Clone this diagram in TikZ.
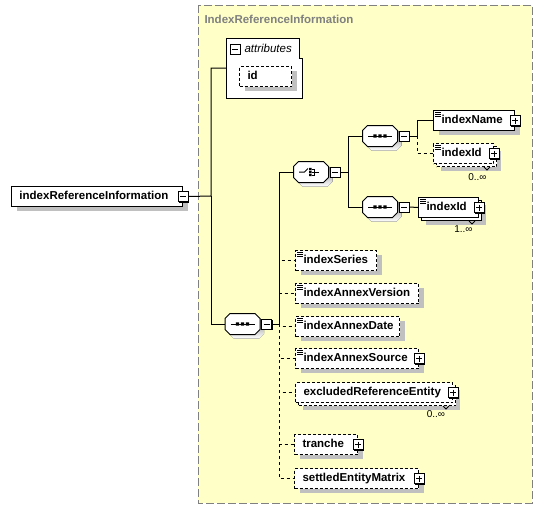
\documentclass[tikz,border=0pt]{standalone}
\usepackage{fontspec}
\setmainfont{Liberation Sans}
\usetikzlibrary{shadows}
\definecolor{bgyellow}{RGB}{255,255,200}
\definecolor{framegray}{RGB}{128,128,128}
\definecolor{shade}{RGB}{192,192,192}
\newcommand{\elfont}{\fontsize{11.5}{13}\selectfont\bfseries}
\newcommand{\occfont}{\fontsize{10}{12}\selectfont}
% octagon outline round a named compositor node
\newcommand{\octpath}[1]{([xshift=5pt]#1.north west) -- ([xshift=-5pt]#1.north east) -- ([yshift=-5pt]#1.north east) -- ([yshift=5pt]#1.south east) -- ([xshift=-5pt]#1.south east) -- ([xshift=5pt]#1.south west) -- ([yshift=5pt]#1.south west) -- ([yshift=-5pt]#1.north west) -- cycle}
\newcommand{\compbox}[1]{\fill[shade,transform canvas={shift={(4pt,-4pt)}}] \octpath{#1}; \draw[fill=white] \octpath{#1};}
\tikzset{
	elem/.style={draw,fill=white,font=\elfont,anchor=north west,minimum height=20pt,inner xsep=8pt,inner ysep=0pt,align=left,text height=8.5pt,text depth=2.5pt},
	single/.style={elem,drop shadow={shadow xshift=5pt,shadow yshift=-4pt,fill=shade,opacity=1}},
	multi/.style={elem,drop shadow={shadow xshift=7pt,shadow yshift=-7pt,fill=shade,opacity=1},general shadow={shadow xshift=3pt,shadow yshift=-3pt,draw,fill=white}},
	opt/.style={dash pattern=on 3pt off 2pt},
	docmark/.style={line width=0.8pt},
	pm/.style={draw,solid,fill=white,minimum size=10pt,inner sep=0pt,drop shadow={shadow xshift=1pt,shadow yshift=-1pt,fill=black,opacity=1}},
	plusbox/.style={pm,path picture={\draw[shift={(path picture bounding box.center)}] (-3,0)--(3,0) (0,-3)--(0,3);}},
	minusbox/.style={pm,path picture={\draw[shift={(path picture bounding box.center)}] (-3,0)--(3,0);}},
	comp/.style={minimum width=34pt,minimum height=20pt,inner sep=0pt},
	occ/.style={font=\occfont,inner sep=0pt},
	notch/.style={line width=0.8pt}
}
\begin{document}
\begin{tikzpicture}[x=1pt,y=-1pt,line width=1pt]
		\useasboundingbox (0,0) rectangle (542,509);
		\path[fill=bgyellow,draw=framegray,dash pattern=on 8pt off 3pt] (198,5) rectangle (532,503);
		\node[anchor=west,inner sep=0pt,font=\elfont,text=framegray] (ttl) at (204,19) {IndexReferenceInformation};
		
		% root element
		\node[single,text width=155pt] (main) at (11,186) {indexReferenceInformation};
		\node[minusbox] (mmain) at (main.east) {};
		
		% attributes
		\node[anchor=north west,minimum width=76pt,minimum height=59pt,inner sep=0pt] (attr) at (226,38) {};
		\draw[fill=white] (attr.north west) -- ++(73,0) -- ++(0,20) -- ++(3,0) |- (attr.south west) -- cycle;
		\node[minusbox] (mattr) at (235,49) {};
		\node[anchor=west,inner sep=0pt,font=\fontsize{11.5}{13}\selectfont\itshape] (attrl) at (244,48) {attributes};
		\node[single,opt,text width=36pt] (id) at (239,66) {id};
		
		% compositors
		\node[comp] (seq0) at (242.5,324) {};
		\node[comp] (choice) at (311,172) {};
		\node[comp] (seq1) at (380,136) {};
		\node[comp] (seq2) at (380,207) {};
		\foreach \s in {seq0,choice,seq1,seq2}{
			\compbox{\s}
			\node[minusbox] (m\s) at ([xshift=6.5pt]\s.east) {};
		}
		\foreach \s in {seq0,seq1,seq2}{
			\begin{scope}[shift={(\s.center)}]
				\draw (-12,0) -- (12,0);
				\fill (-6.6,-1.6) rectangle (-3.4,1.6) (-1.6,-1.6) rectangle (1.6,1.6) (3.4,-1.6) rectangle (6.6,1.6);
			\end{scope}
		}
		\begin{scope}[shift={(choice.center)}]
			\draw (-12,0) -- (-6.5,0) -- (-3,-3.5);
			\fill (-1.8,-4.2) rectangle (0.6,-1.8) (-1.8,-1.2) rectangle (0.6,1.2) (-1.8,1.8) rectangle (0.6,4.2);
			\draw[line width=0.8pt] (1,-3) -- (3,-3) -- (3,3) -- (1,3) (1,0) -- (8,0);
		\end{scope}
		
		% choice branches
		\node[single,text width=65pt] (name) at (433,110) {indexName};
		\node[plusbox] at (name.east) {};
		\node[multi,opt,text width=44pt] (idopt) at (433,143) {indexId};
		\node[plusbox] at (idopt.east) {};
		\draw[notch] ([xshift=-10pt,yshift=-3pt]idopt.south east) -- ++(3,3) -- ++(3,-3);
		\node[occ] (occa) at (477.5,177) {0..∞};
		\node[multi,text width=44pt] (idreq) at (418,197) {indexId};
		\node[plusbox] at (idreq.east) {};
		\draw[notch] ([xshift=-10pt,yshift=-3pt]idreq.south east) -- ++(3,3) -- ++(3,-3);
		\node[occ] (occb) at (463.5,229) {1..∞};
		
		% sequence children
		\node[single,opt,text width=65pt] (series) at (295,250) {indexSeries};
		\node[single,opt,text width=107pt] (version) at (295,283) {indexAnnexVersion};
		\node[single,opt,text width=88pt] (date) at (295,316) {indexAnnexDate};
		\node[single,opt,text width=107pt] (source) at (295,348) {indexAnnexSource};
		\node[plusbox] at (source.east) {};
		\node[multi,opt,text width=141pt] (excl) at (295,382) {excludedReferenceEntity};
		\node[plusbox] at (excl.east) {};
		\draw[notch] ([xshift=-10pt,yshift=-3pt]excl.south east) -- ++(3,3) -- ++(3,-3);
		\node[occ] (occc) at (436,414) {0..∞};
		\node[single,opt,text width=47pt] (tranche) at (294,434) {tranche};
		\node[plusbox] at (tranche.east) {};
		\node[single,opt,text width=108pt] (matrix) at (294,468) {settledEntityMatrix};
		\node[plusbox] at (matrix.east) {};
		
		% documentation marks
		\foreach \e in {name,idopt,idreq,series,version,date,source}
			\draw[docmark] ([xshift=2pt,yshift=-2pt]\e.north west) -- ++(6pt,0pt) ([xshift=2pt,yshift=-4pt]\e.north west) -- ++(6pt,0pt) ([xshift=2pt,yshift=-6pt]\e.north west) -- ++(6pt,0pt);
		
		% connectors
		\coordinate (b1) at (211,196);
		\coordinate (b2) at (279,324);
		\coordinate (b3) at (348,172);
		\coordinate (b4) at (417,136);
		\draw (mmain.east) -- (b1) |- (attr.west);
		\draw (b1) |- (seq0.west);
		\draw (mseq0.east) -- (b2) |- (choice.west);
		\foreach \c in {series,version,date,source,excl,tranche,matrix}
			\draw[dash pattern=on 3pt off 3pt] (b2) |- (\c.west);
		\draw (mchoice.east) -- (b3) |- (seq1.west);
		\draw (b3) |- (seq2.west);
		\draw (mseq1.east) -- (b4) |- (name.west);
		\draw[dash pattern=on 3pt off 3pt] (b4) |- (idopt.west);
		\draw (mseq2.east) -- (idreq.west);
		
\end{tikzpicture}
\end{document}
